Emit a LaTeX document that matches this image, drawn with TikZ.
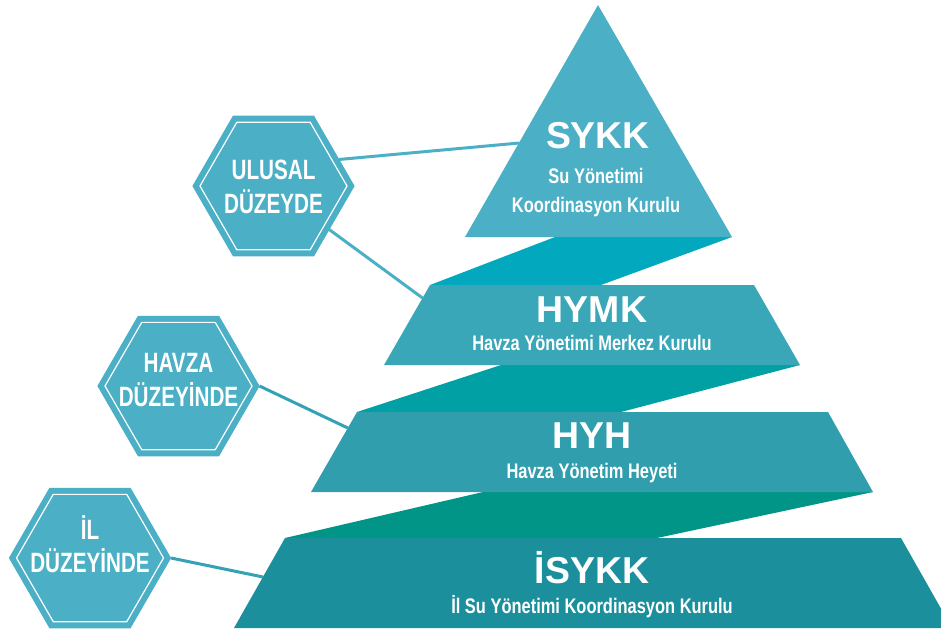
\documentclass[tikz,border=0pt]{standalone}
\usepackage{fontspec}
\setmainfont{Liberation Sans}
\newfontfamily\narrowfont[FakeStretch=0.78]{Liberation Sans}
\newfontfamily\hexfont[FakeStretch=0.74]{Liberation Sans}
\usepackage{xcolor}
\usepackage{tikz}
\usetikzlibrary{shapes,positioning,calc}

\definecolor{hexcol}{HTML}{4BB0C6}
\definecolor{sykkcol}{HTML}{4BB0C6}
\definecolor{hymkcol}{HTML}{3AA7B8}
\definecolor{hyhcol}{HTML}{309EAD}
\definecolor{isykkcol}{HTML}{1C8F9C}
\definecolor{bandone}{HTML}{02A9BE}
\definecolor{bandtwo}{HTML}{00A0A5}
\definecolor{bandthree}{HTML}{009586}
\definecolor{linkcol}{HTML}{34A2B5}

\tikzset{
  hexa/.style={regular polygon, regular polygon sides=6, minimum size=29.4mm,
    inner sep=0pt, outer sep=1.3mm, fill=hexcol, draw=hexcol, line width=1.2mm,
    double=white, double distance=0.24mm},
  hextext/.style={text=white, font=\hexfont\bfseries\fontsize{15.9}{19}\selectfont,
    align=center, inner sep=0pt},
  title/.style={text=white, font=\bfseries\fontsize{21.3}{25}\selectfont,
    anchor=base, inner sep=0pt},
  subtitle/.style={text=white, font=\narrowfont\bfseries\fontsize{12}{14}\selectfont,
    anchor=base, inner sep=0pt},
  link/.style={line width=0.6mm}
}

\begin{document}
\begin{tikzpicture}[x=0.2mm, y=-0.2mm]
    \clip (0,0) rectangle (941,633);

    % corners of the levels
    \coordinate (sykk-top) at (598,5);
    \coordinate (sykk-l) at (465,237);
    \coordinate (sykk-r) at (732,237);
    \coordinate (hymk-tl) at (430,285);
    \coordinate (hymk-tr) at (754,285);
    \coordinate (hymk-br) at (800,365);
    \coordinate (hymk-bl) at (384,365);
    \coordinate (hyh-tl) at (357,412);
    \coordinate (hyh-tr) at (828,412);
    \coordinate (hyh-br) at (873,492);
    \coordinate (hyh-bl) at (311,492);
    \coordinate (isykk-tl) at (285,538);
    \coordinate (isykk-tr) at (901,538);
    \coordinate (isykk-br) at (952,628);
    \coordinate (isykk-bl) at (234,628);

    % bands between the levels
    \fill[bandone] (555,237) -- (sykk-r) -- (601,285) -- (hymk-tl) -- cycle;
    \fill[bandtwo] (501,365) -- (hymk-br) -- (621,412) -- (hyh-tl) -- cycle;
    \fill[bandthree] (483,492) -- (hyh-br) -- (657,538) -- (isykk-tl) -- cycle;

    \fill[sykkcol] (sykk-top) -- (sykk-r) -- (sykk-l) -- cycle;
    \fill[hymkcol] (hymk-tl) -- (hymk-tr) -- (hymk-br) -- (hymk-bl) -- cycle;
    \fill[hyhcol] (hyh-tl) -- (hyh-tr) -- (hyh-br) -- (hyh-bl) -- cycle;
    \fill[isykkcol] (isykk-tl) -- (isykk-tr) -- (isykk-br) -- (isykk-bl) -- cycle;

    \node [title] (sykk) at (598,148) {SYKK};
    \node [subtitle] (sykk-sub1) at (596,183) {Su Yönetimi};
    \node [subtitle] (sykk-sub2) at (596,212) {Koordinasyon Kurulu};
    \node [title] (hymk) at (592,322) {HYMK};
    \node [subtitle] (hymk-sub) at (592,350) {Havza Yönetimi Merkez Kurulu};
    \node [title] (hyh) at (592,448) {HYH};
    \node [subtitle] (hyh-sub) at (592,478) {Havza Yönetim Heyeti};
    \node [title] (isykk) at (592,583) {İSYKK};
    \node [subtitle] (isykk-sub) at (592,613) {İl Su Yönetimi Koordinasyon Kurulu};

    % hexagons
    \node [hexa] (ulusal) at (273.5,186) {};
    \node [hexa] (havza) at (178.5,386) {};
    \node [hexa] (il) at (90,558) {};
    \node [hextext] (ulusal-txt) at ($(ulusal)+(0,1)$) {ULUSAL\\DÜZEYDE};
    \node [hextext] (havza-txt) at ($(havza)+(0,-6)$) {HAVZA\\DÜZEYİNDE};
    \node [hextext] (il-txt) at ($(il)+(0,-14)$) {İL\\DÜZEYİNDE};

    % links to the levels
    \coordinate (sykk-in) at ($(sykk-top)!0.595!(sykk-l)$);
    \coordinate (hymk-in) at ($(hymk-tl)!0.1625!(hymk-bl)$);
    \coordinate (hyh-in) at ($(hyh-tl)!0.2!(hyh-bl)$);
    \coordinate (isykk-in) at ($(isykk-tl)!0.433!(isykk-bl)$);
    \draw[link, hexcol] (ulusal.22) -- (sykk-in);
    \draw[link, hexcol] (ulusal.-38) -- (hymk-in);
    \draw[link, linkcol] (havza.0) -- (hyh-in);
    \draw[link, linkcol] (il.0) -- (isykk-in);
\end{tikzpicture}
\end{document}
